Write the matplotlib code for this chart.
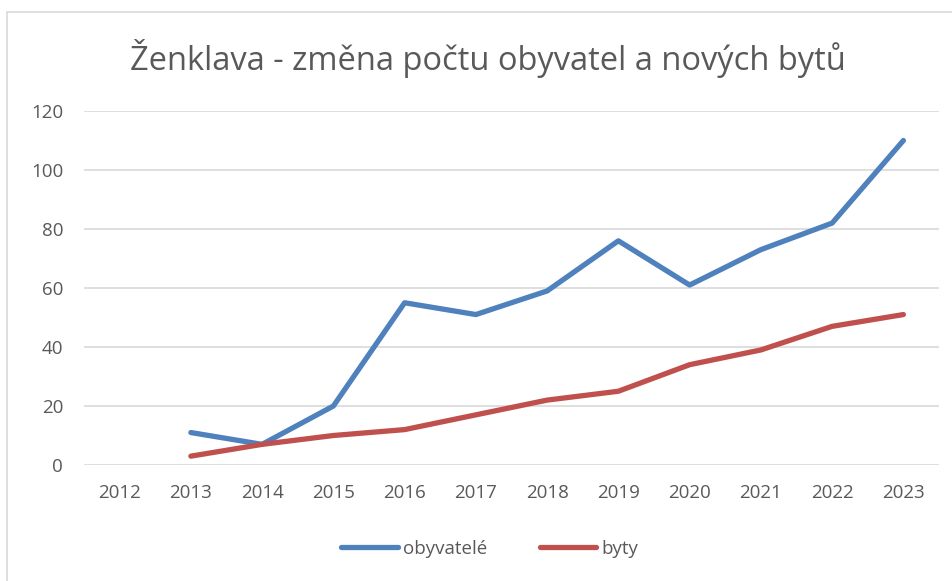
import matplotlib.pyplot as plt
from matplotlib.patches import Rectangle

# data
years = ['2012', '2013', '2014', '2015', '2016', '2017', '2018', '2019',
         '2020', '2021', '2022', '2023']
obyvatele = [None, 11, 7, 20, 55, 51, 59, 76, 61, 73, 82, 110]
byty = [None, 3, 7, 10, 12, 17, 22, 25, 34, 39, 47, 51]
yticks = [0, 20, 40, 60, 80, 100, 120]

W, H = 953, 581
text_col = '#595959'
plt.rcParams['font.family'] = ['Open Sans', 'DejaVu Sans']

fig = plt.figure(figsize=(W / 100, H / 100), dpi=100)
ax = fig.add_axes([84 / W, 1 - 465 / H, (939 - 84) / W, (465 - 111) / H])

# chart border
fig.patches.append(Rectangle((7 / W, -0.01), 1.0, 1 - 12 / H + 0.01,
                             transform=fig.transFigure, fill=False,
                             edgecolor='#d9d9d9', lw=1.2))

x = list(range(len(years)))
xo = [i for i, v in zip(x, obyvatele) if v is not None]
yo = [v for v in obyvatele if v is not None]
xb = [i for i, v in zip(x, byty) if v is not None]
yb = [v for v in byty if v is not None]

ax.plot(xo, yo, color='#4f81bd', lw=3.8, solid_capstyle='round',
        solid_joinstyle='round', label='obyvatelé', zorder=3)
ax.plot(xb, yb, color='#c0504d', lw=3.8, solid_capstyle='round',
        solid_joinstyle='round', label='byty', zorder=3)

ax.set_xlim(-0.5, len(years) - 0.5)
ax.set_ylim(0, 120)
ax.set_xticks(x, years)
ax.set_yticks(yticks)
ax.grid(axis='y', color='#d9d9d9', lw=1.2)
ax.set_axisbelow(True)
for s in ax.spines.values():
    s.set_visible(False)
ax.tick_params(length=0, labelsize=13.5, colors=text_col)
ax.tick_params(axis='y', pad=15)
ax.tick_params(axis='x', pad=14)

fig.text(488 / W, 1 - 58 / H, 'Ženklava - změna počtu obyvatel a nových bytů',
         ha='center', va='center', fontsize=23.5, color=text_col)

fig.legend(loc='center', bbox_to_anchor=(490 / W, 1 - 549 / H), ncol=2,
           frameon=False, fontsize=13.5, labelcolor=text_col,
           handlelength=3.0, handletextpad=0.3, columnspacing=2.8)

fig.savefig('out.png', dpi=100)
